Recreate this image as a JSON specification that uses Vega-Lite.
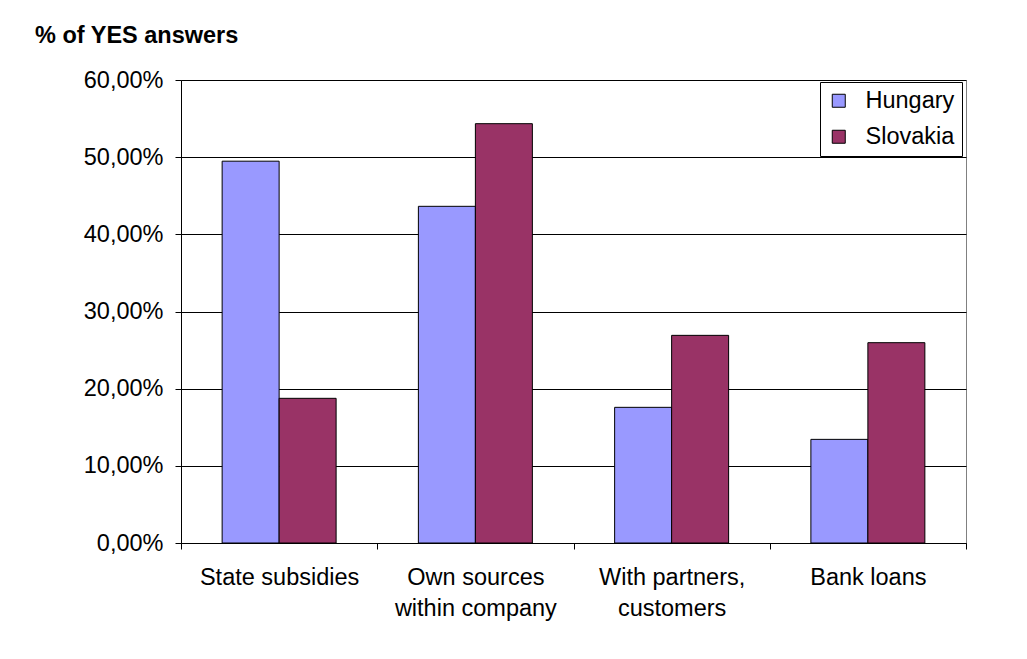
{
  "$schema": "https://vega.github.io/schema/vega-lite/v6.json",
  "autosize": {"type": "none"},
  "padding": {"left": 181, "top": 80, "right": 61, "bottom": 116},
  "width": 785,
  "height": 463,
  "background": "white",
  "config": {
    "font": "Liberation Sans",
    "view": {"stroke": "#808080", "strokeWidth": 1}
  },
  "title": {
    "text": "% of YES answers",
    "anchor": "start",
    "frame": "group",
    "orient": "top",
    "fontSize": 23.5,
    "fontWeight": "bold",
    "font": "Liberation Sans",
    "color": "black",
    "baseline": "alphabetic",
    "dx": -146,
    "dy": 40,
    "offset": 42
  },
  "data": {
    "values": [
      {"source": "State subsidies", "country": "Hungary", "share": 0.4948},
      {"source": "State subsidies", "country": "Slovakia", "share": 0.1875},
      {"source": "Own sources within company", "country": "Hungary", "share": 0.4363},
      {"source": "Own sources within company", "country": "Slovakia", "share": 0.5434},
      {"source": "With partners, customers", "country": "Hungary", "share": 0.1758},
      {"source": "With partners, customers", "country": "Slovakia", "share": 0.2691},
      {"source": "Bank loans", "country": "Hungary", "share": 0.1343},
      {"source": "Bank loans", "country": "Slovakia", "share": 0.2596}
    ]
  },
  "mark": {"type": "bar", "stroke": "black", "strokeWidth": 1},
  "encoding": {
    "x": {
      "field": "source",
      "type": "nominal",
      "sort": null,
      "scale": {"paddingInner": 0, "paddingOuter": 0},
      "axis": {
        "title": null,
        "labelAngle": 0,
        "labelFontSize": 23.5,
        "labelColor": "black",
        "labelBaseline": "top",
        "labelLineHeight": 31,
        "labelPadding": 16,
        "tickBand": "extent",
        "tickSize": 6,
        "tickColor": "black",
        "domainColor": "black",
        "labelExpr": "datum.value == 'Own sources within company' ? ['Own sources', 'within company'] : datum.value == 'With partners, customers' ? ['With partners,', 'customers'] : datum.label"
      }
    },
    "xOffset": {
      "field": "country",
      "type": "nominal",
      "scale": {"paddingInner": 0, "paddingOuter": 0.7215}
    },
    "y": {
      "field": "share",
      "type": "quantitative",
      "scale": {"domain": [0, 0.6], "nice": false},
      "axis": {
        "title": null,
        "values": [0, 0.1, 0.2, 0.3, 0.4, 0.5, 0.6],
        "labelExpr": "replace(format(datum.value, '.2%'), '.', ',')",
        "labelFontSize": 23.5,
        "labelColor": "black",
        "labelPadding": 12,
        "tickSize": 6,
        "tickColor": "black",
        "domainColor": "black",
        "gridColor": "black",
        "gridOpacity": 1,
        "gridWidth": 1
      }
    },
    "fill": {
      "field": "country",
      "type": "nominal",
      "scale": {"domain": ["Hungary", "Slovakia"], "range": ["#9999FF", "#993366"]},
      "legend": {
        "title": null,
        "orient": "none",
        "legendX": 639,
        "legendY": 2,
        "strokeColor": "black",
        "padding": 7,
        "symbolType": "square",
        "symbolSize": 169,
        "symbolStrokeColor": "black",
        "symbolStrokeWidth": 1,
        "labelFontSize": 23.5,
        "labelColor": "black",
        "labelOffset": 15,
        "rowPadding": 11
      }
    }
  }
}
